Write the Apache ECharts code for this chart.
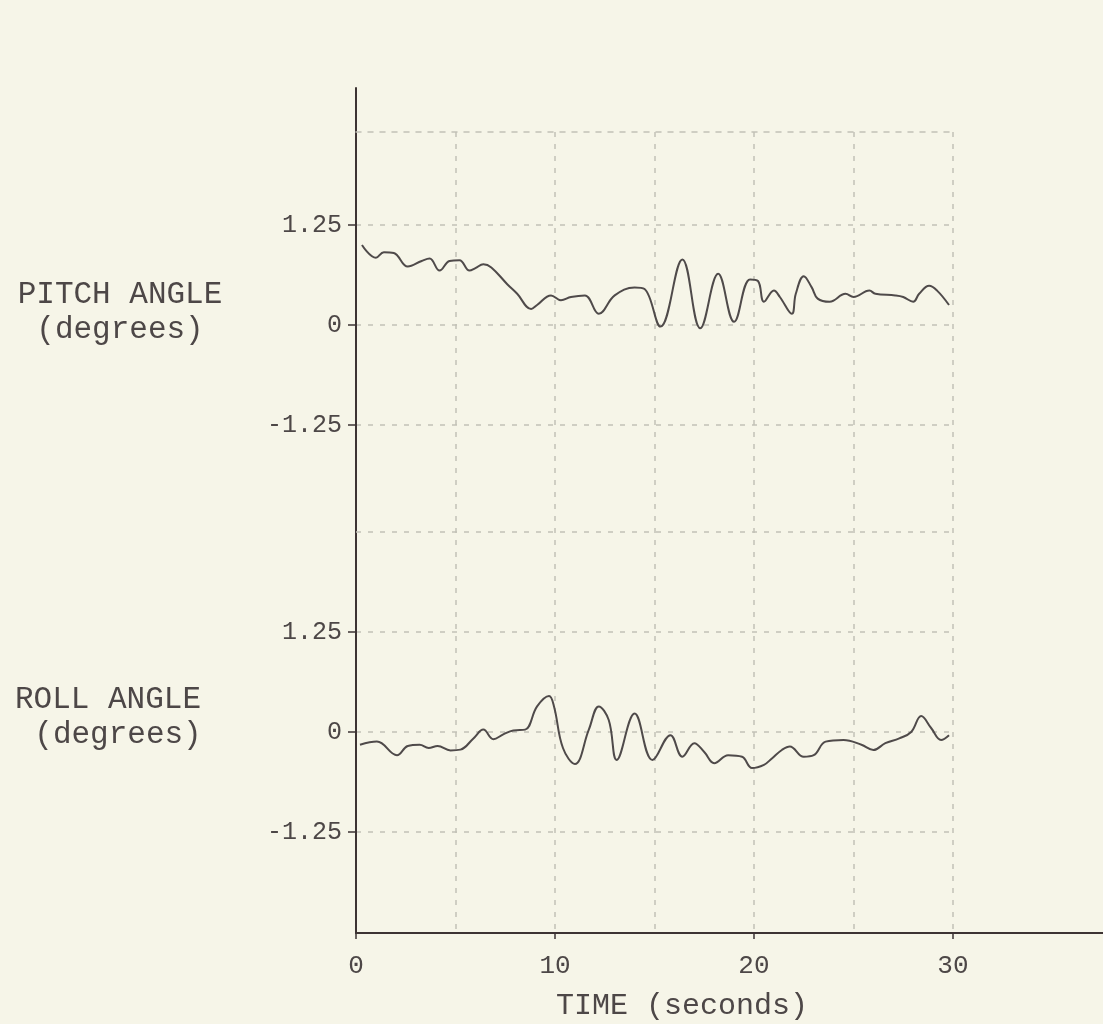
<!DOCTYPE html>
<html>
<head>
<meta charset="utf-8">
<script src="https://cdn.jsdelivr.net/npm/echarts@6/dist/echarts.min.js"></script>
<style>
  html, body { margin: 0; padding: 0; background: #f6f5e8; }
  #chart { width: 1103px; height: 1024px; }
</style>
</head>
<body>
<div id="chart"></div>
<script>
// Pitch angle trace: time (s) and angle (degrees)
const pitchTime = [0.3, 1.0, 1.4, 1.9, 2.6, 3.3, 3.7, 4.2, 4.7, 5.2, 5.7, 6.0, 6.4, 6.8, 7.6, 8.1, 8.8, 9.1, 9.8, 10.3,
  10.8, 11.5, 12.2, 13.0, 14.0, 14.5, 15.3, 16.4, 17.3, 18.2, 19.0, 19.8, 20.2, 20.5, 21.0, 21.3, 21.9, 22.1, 22.5, 22.9,
  23.2, 23.8, 24.6, 25.0, 25.8, 26.1, 27.1, 27.5, 28.0, 28.3, 28.8, 29.2, 29.8];
const pitchDeg = [1.00, 0.84, 0.91, 0.90, 0.73, 0.80, 0.83, 0.68, 0.80, 0.81, 0.68, 0.71, 0.76, 0.72, 0.51, 0.39, 0.20, 0.25, 0.37, 0.31,
  0.35, 0.37, 0.14, 0.37, 0.47, 0.45, -0.02, 0.82, -0.04, 0.64, 0.04, 0.57, 0.55, 0.29, 0.43, 0.35, 0.14, 0.39, 0.61, 0.47,
  0.33, 0.29, 0.39, 0.35, 0.43, 0.39, 0.37, 0.35, 0.29, 0.39, 0.49, 0.43, 0.25];

// Roll angle trace: time (s) and angle (degrees)
const rollTime = [0.2, 1.05, 2.06, 2.6, 3.2, 3.65, 4.1, 4.75, 5.25, 5.9, 6.4, 6.9, 7.4, 7.9, 8.5, 9.1, 9.7, 9.95, 10.4, 11.0,
  11.7, 12.2, 12.7, 13.1, 14.0, 14.9, 15.8, 16.4, 17.0, 17.5, 18.0, 18.7, 19.4, 19.9, 20.5, 20.9, 21.4, 21.8, 22.5, 23.0,
  23.6, 24.5, 25.4, 26.0, 26.6, 27.3, 27.9, 28.4, 28.9, 29.4, 29.8];
const rollDeg = [-0.16, -0.12, -0.29, -0.175, -0.16, -0.20, -0.175, -0.23, -0.22, -0.08, 0.03, -0.09, -0.03, 0.02, 0.03, 0.32, 0.45, 0.32, -0.20, -0.40,
  0.03, 0.32, 0.15, -0.35, 0.23, -0.35, -0.04, -0.31, -0.14, -0.25, -0.39, -0.29, -0.31, -0.45, -0.41, -0.33, -0.225, -0.18, -0.31, -0.29,
  -0.12, -0.10, -0.16, -0.225, -0.14, -0.08, 0.00, 0.20, 0.05, -0.10, -0.04];

// Tick values
const timeTicks = [0, 10, 20, 30];
const pitchTicks = [-1.25, 0, 1.25];
const rollTicks = [-1.25, 0, 1.25];
// Extra unlabelled grid level above the roll panel
const rollUpperGrid = [2.5];

const FONT = 'Liberation Mono';
const INK = '#3d3333';
const TEXT = '#4d4747';
const GRID = '#c2c1b6';
const TRACE = '#4f4a4a';
const DASH = [5, 7];

const zip = (a, b) => a.map((v, i) => [v, b[i]]);
const fmt = v => (v === 0 ? '0' : String(v));

const chart = echarts.init(document.getElementById('chart'), null, { renderer: 'canvas' });

chart.setOption({
  backgroundColor: '#f6f5e8',
  animation: false,
  grid: [
    { left: 356, right: 0, top: 88, bottom: 91 },      // outer frame: axis lines
    { left: 356, right: 150, top: 225, height: 200 },  // pitch panel
    { left: 356, right: 150, top: 532, height: 300 },  // roll panel
    { left: 356, right: 150, top: 132, bottom: 91 }    // dashed time grid
  ],
  xAxis: [
    {
      gridIndex: 0, type: 'value', min: 0, max: 37.54,
      axisLine: { show: true, lineStyle: { color: INK, width: 2 } },
      axisTick: { show: true, customValues: timeTicks, length: 6, lineStyle: { color: INK, width: 1.5 } },
      axisLabel: { customValues: timeTicks, margin: 20, fontFamily: FONT, fontSize: 26, color: TEXT },
      splitLine: { show: false }
    },
    { gridIndex: 1, type: 'value', min: 0, max: 30, show: false },
    { gridIndex: 2, type: 'value', min: 0, max: 30, show: false },
    {
      gridIndex: 3, type: 'value', position: 'top', min: 0, max: 30, interval: 5,
      axisLine: { show: true, onZero: false, lineStyle: { color: GRID, width: 1.5, type: DASH } },
      axisTick: { show: false },
      axisLabel: { show: false },
      splitLine: { show: true, lineStyle: { color: GRID, width: 1.5, type: DASH } }
    }
  ],
  yAxis: [
    {
      gridIndex: 0, type: 'value', min: 0, max: 1,
      axisLine: { show: true, lineStyle: { color: INK, width: 2 } },
      axisTick: { show: false }, axisLabel: { show: false }, splitLine: { show: false }
    },
    {
      gridIndex: 1, type: 'value', min: -1.25, max: 1.25, interval: 1.25,
      axisLine: { show: false },
      axisTick: { show: true, customValues: pitchTicks, length: 8, lineStyle: { color: INK, width: 1.5 } },
      axisLabel: { customValues: pitchTicks, margin: 14, formatter: fmt, fontFamily: FONT, fontSize: 25, color: TEXT },
      splitLine: { show: true, lineStyle: { color: GRID, width: 1.5, type: DASH } }
    },
    {
      gridIndex: 2, type: 'value', min: -1.25, max: 2.5, interval: 1.25,
      axisLine: { show: false },
      axisTick: { show: true, customValues: rollTicks, length: 8, lineStyle: { color: INK, width: 1.5 } },
      axisLabel: { customValues: rollTicks, margin: 14, formatter: fmt, fontFamily: FONT, fontSize: 25, color: TEXT },
      splitLine: { show: true, lineStyle: { color: GRID, width: 1.5, type: DASH } }
    },
    { gridIndex: 3, type: 'value', min: 0, max: 1, show: false }
  ],
  series: [
    {
      name: 'PITCH ANGLE', type: 'line', xAxisIndex: 1, yAxisIndex: 1,
      data: zip(pitchTime, pitchDeg), smooth: 0.4, showSymbol: false,
      lineStyle: { color: TRACE, width: 2 }
    },
    {
      name: 'ROLL ANGLE', type: 'line', xAxisIndex: 2, yAxisIndex: 2,
      data: zip(rollTime, rollDeg), smooth: 0.4, showSymbol: false,
      lineStyle: { color: TRACE, width: 2 },
      markLine: {
        silent: true, symbol: 'none', label: { show: false },
        lineStyle: { color: GRID, width: 1.5, type: DASH },
        data: rollUpperGrid.map(v => ({ yAxis: v }))
      }
    }
  ],
  graphic: [
    { type: 'text', x: 120, y: 295, style: { text: 'PITCH ANGLE', font: '31px "Liberation Mono"', fill: TEXT, textAlign: 'center', textVerticalAlign: 'middle' } },
    { type: 'text', x: 120, y: 330, style: { text: '(degrees)', font: '31px "Liberation Mono"', fill: TEXT, textAlign: 'center', textVerticalAlign: 'middle' } },
    { type: 'text', x: 108, y: 700, style: { text: 'ROLL ANGLE', font: '31px "Liberation Mono"', fill: TEXT, textAlign: 'center', textVerticalAlign: 'middle' } },
    { type: 'text', x: 118, y: 735, style: { text: '(degrees)', font: '31px "Liberation Mono"', fill: TEXT, textAlign: 'center', textVerticalAlign: 'middle' } },
    { type: 'text', x: 682, y: 1006, style: { text: 'TIME (seconds)', font: '30px "Liberation Mono"', fill: TEXT, textAlign: 'center', textVerticalAlign: 'middle' } }
  ]
});
</script>
</body>
</html>
